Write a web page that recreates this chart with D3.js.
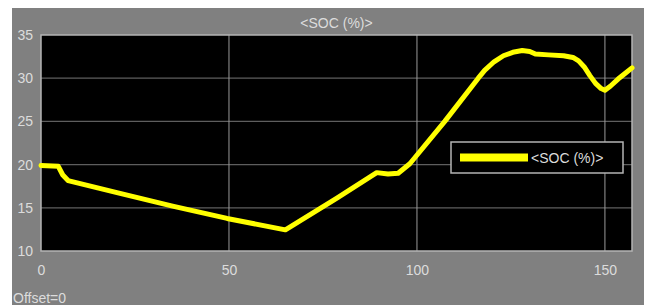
<!DOCTYPE html>
<html>
<head>
<meta charset="utf-8">
<script src="https://cdn.jsdelivr.net/npm/d3@7"></script>
<style>
    body { margin: 0; background: #fff; }
    text { font-family: "Liberation Sans", Arial, sans-serif; fill: #dcdcdc; }
</style>
</head>
<body>
<div id="chart"></div>
<script>
// SOC trace
var timeVals = [0, 4.6, 5.8, 7.2, 20.2, 35, 49.5, 65, 78.6, 89.3, 92.3, 95, 98.1, 107.4, 116.3, 118, 120.5, 123, 125.5, 128, 130, 131.5, 135, 139, 141.5, 143, 144.5, 146, 147.5, 149, 150, 151.5, 153.5, 155.5, 157.2];
var socVals = [19.9, 19.8, 18.8, 18.15, 16.75, 15.2, 13.77, 12.45, 16.1, 19.07, 18.9, 19.0, 20.1, 25, 30, 30.9, 31.9, 32.6, 33.0, 33.2, 33.1, 32.8, 32.7, 32.6, 32.4, 32.0, 31.3, 30.3, 29.4, 28.8, 28.6, 29.1, 29.9, 30.6, 31.2];
var xTicks = [0, 50, 100, 150];
var yTicks = [10, 15, 20, 25, 30, 35];
var seriesName = "<SOC (%)>";

var W = 646, H = 305;
var margin = { top: 35, right: 14, bottom: 54, left: 41 };
var width = W - margin.left - margin.right,
    height = H - margin.top - margin.bottom;

var svg = d3.select("#chart").append("svg")
    .attr("width", W)
    .attr("height", H);

// gray scope frame
svg.append("rect").attr("x", 12).attr("y", 8).attr("width", 632).attr("height", H - 8).attr("fill", "#808080");

var x = d3.scaleLinear().domain([0, 157.2]).range([0, width]);
var y = d3.scaleLinear().domain([10, 35]).range([height, 0]);

var g = svg.append("g").attr("transform", "translate(" + margin.left + "," + margin.top + ")");

g.append("rect").attr("width", width).attr("height", height).attr("fill", "#000");

// grid
g.selectAll(".hgrid").data(yTicks.slice(1, -1)).enter().append("line")
    .attr("x1", 0).attr("x2", width)
    .attr("y1", d => y(d)).attr("y2", d => y(d))
    .attr("stroke", "#5e5e5e").attr("stroke-width", 1.2);
g.selectAll(".vgrid").data(xTicks.slice(1)).enter().append("line")
    .attr("x1", d => x(d)).attr("x2", d => x(d))
    .attr("y1", 0).attr("y2", height)
    .attr("stroke", "#9a9a9a").attr("stroke-width", 1);

// axes (labels only, border drawn separately)
var yAxis = g.append("g").call(d3.axisLeft(y).tickValues(yTicks).tickSize(0).tickPadding(8));
var xAxis = g.append("g").attr("transform", "translate(0," + height + ")")
    .call(d3.axisBottom(x).tickValues(xTicks).tickSize(0).tickPadding(14));
[yAxis, xAxis].forEach(function (a) {
    a.select(".domain").remove();
    a.selectAll("text").attr("fill", "#dcdcdc").style("font-size", "14px").attr("font-family", null);
});

g.append("rect").attr("width", width).attr("height", height)
    .attr("fill", "none").attr("stroke", "#b4b4b4").attr("stroke-width", 1.5);

// data line
var pts = timeVals.map(function (t, i) { return [t, socVals[i]]; });
var line = d3.line().x(d => x(d[0])).y(d => y(d[1]));
g.append("path").datum(pts)
    .attr("d", line)
    .attr("fill", "none")
    .attr("stroke", "#ffff00")
    .attr("stroke-width", 5)
    .attr("stroke-linejoin", "round")
    .attr("stroke-linecap", "round");

// title
svg.append("text").attr("x", margin.left + width / 2).attr("y", 28)
    .attr("text-anchor", "middle").style("font-size", "14px").text(seriesName);

// legend
var lg = svg.append("g").attr("transform", "translate(451,142)");
lg.append("rect").attr("width", 172).attr("height", 31)
    .attr("fill", "#000").attr("stroke", "#b4b4b4").attr("stroke-width", 1.5);
lg.append("line").attr("x1", 9).attr("x2", 77).attr("y1", 15.5).attr("y2", 15.5)
    .attr("stroke", "#ffff00").attr("stroke-width", 8);
lg.append("text").attr("x", 80).attr("y", 21).style("font-size", "14px").text(seriesName);

svg.append("text").attr("x", 13).attr("y", 303).style("font-size", "14px").text("Offset=0");
</script>
</body>
</html>
